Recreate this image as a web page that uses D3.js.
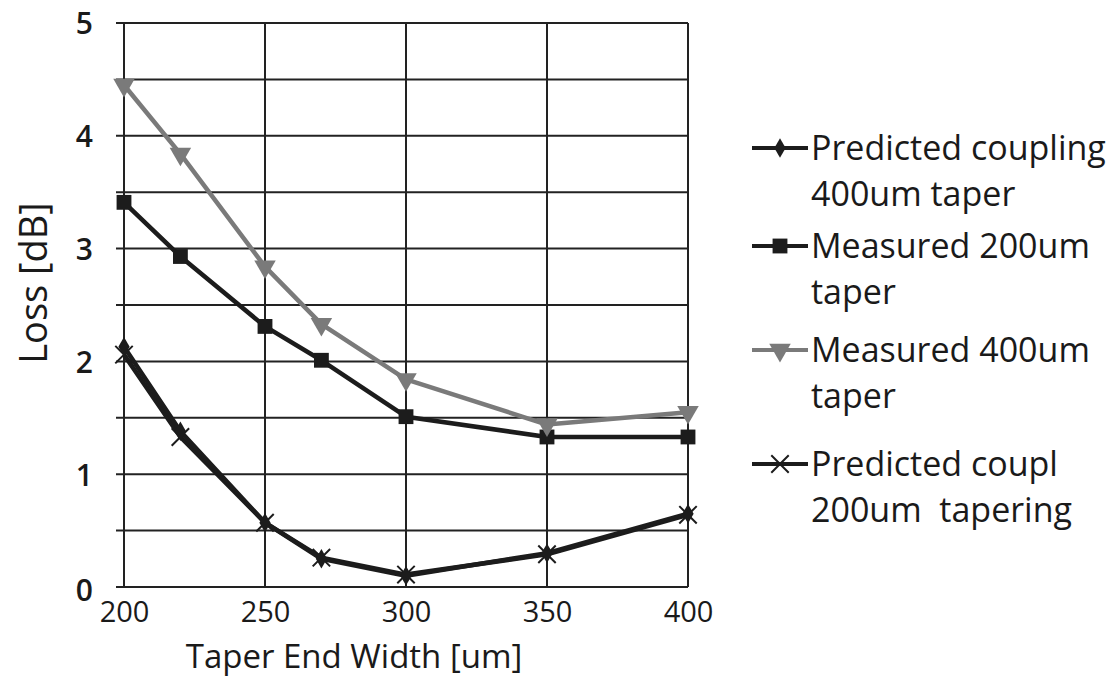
<!DOCTYPE html>
<html>
<head>
<meta charset="utf-8">
<script src="https://cdn.jsdelivr.net/npm/d3@7"></script>
<style>
  html, body { margin: 0; padding: 0; background: #fff; }
  svg { display: block; }
  text { font-family: "Open Sans", "Noto Sans", sans-serif; fill: #1a1a1a; }
</style>
</head>
<body>
<svg id="chart" width="1117" height="677"></svg>
<script>
// Taper end width [um]
const widths = [200, 220, 250, 270, 300, 350, 400];

// Loss [dB] per series
const predicted400 = [2.13, 1.38, 0.57, 0.25, 0.10, 0.30, 0.65];
const measured200  = [3.41, 2.93, 2.31, 2.01, 1.51, 1.33, 1.33];
const measured400  = [4.45, 3.84, 2.84, 2.33, 1.84, 1.44, 1.55];
const predicted200 = [2.06, 1.33, 0.57, 0.26, 0.11, 0.29, 0.64];

const xTicks = [200, 250, 300, 350, 400];
const yTicks = [0, 1, 2, 3, 4, 5];
const yGrid  = [0, 0.5, 1, 1.5, 2, 2.5, 3, 3.5, 4, 4.5, 5];

const seriesNames = [
  ["Predicted coupling", "400um taper"],
  ["Measured 200um", "taper"],
  ["Measured 400um", "taper"],
  ["Predicted coupl", "200um\u00a0 tapering"]
];

const series = [
  { values: predicted400, name: seriesNames[0], color: "#1c1c1c", marker: "diamond" },
  { values: measured200,  name: seriesNames[1], color: "#1c1c1c", marker: "square" },
  { values: measured400,  name: seriesNames[2], color: "#7a7a7a", marker: "triangleDown" },
  { values: predicted200, name: seriesNames[3], color: "#1c1c1c", marker: "cross" }
];

const svg = d3.select("#chart");
const plot = { left: 124, right: 688, top: 23, bottom: 587 };

const x = d3.scaleLinear().domain([200, 400]).range([plot.left, plot.right]);
const y = d3.scaleLinear().domain([0, 5]).range([plot.bottom, plot.top]);

// grid
const grid = svg.append("g").attr("stroke", "#222").attr("stroke-width", 2);
grid.selectAll("line.h").data(yGrid).join("line")
  .attr("x1", plot.left - 8).attr("x2", plot.right)
  .attr("y1", d => y(d)).attr("y2", d => y(d));
grid.selectAll("line.v").data(xTicks).join("line")
  .attr("x1", d => x(d)).attr("x2", d => x(d))
  .attr("y1", plot.top).attr("y2", plot.bottom);

// axes labels
const xAxis = d3.axisBottom(x).tickValues(xTicks).tickSize(0).tickPadding(0)
  .tickFormat(d3.format("d"));
const gx = svg.append("g").attr("transform", `translate(0,${plot.bottom})`).call(xAxis);
gx.select(".domain").remove();
gx.selectAll("text").attr("dy", null).attr("y", 35)
  .style("font-size", "29px").attr("fill", "#1a1a1a");

const yAxis = d3.axisLeft(y).tickValues(yTicks).tickSize(0).tickPadding(0)
  .tickFormat(d3.format("d"));
const gy = svg.append("g").attr("transform", `translate(${plot.left - 31},0)`).call(yAxis);
gy.select(".domain").remove();
gy.selectAll("text").attr("x", 0).attr("dy", "0.36em")
  .style("font-size", "30px").style("font-weight", "600").attr("fill", "#1a1a1a");
gy.selectAll(".tick").filter(d => d === 0).select("text").attr("dy", "0.45em");

svg.append("text").attr("x", 354).attr("y", 668).attr("text-anchor", "middle")
  .style("font-size", "33px").text("Taper End Width [um]");
svg.append("text").attr("transform", "translate(47,283) rotate(-90)")
  .attr("text-anchor", "middle").style("font-size", "38px").text("Loss [dB]");

// markers
function drawMarker(g, type, color, cx, cy) {
  if (type === "diamond") {
    g.append("path").attr("d", d3.symbol(d3.symbolDiamond, 110)())
      .attr("transform", `translate(${cx},${cy})`).attr("fill", color);
  } else if (type === "square") {
    g.append("path").attr("d", d3.symbol(d3.symbolSquare, 220)())
      .attr("transform", `translate(${cx},${cy})`).attr("fill", color);
  } else if (type === "triangleDown") {
    g.append("path").attr("d", d3.symbol(d3.symbolTriangle, 200)())
      .attr("transform", `translate(${cx},${cy}) rotate(180)`).attr("fill", color);
  } else if (type === "cross") {
    g.append("path").attr("d", d3.symbol(d3.symbolX, 200)())
      .attr("transform", `translate(${cx},${cy})`).attr("fill", "none")
      .attr("stroke", color).attr("stroke-width", 2);
  }
}

const line = d3.line().x((d, i) => x(widths[i])).y(d => y(d));
const drawOrder = [3, 0, 1, 2];
drawOrder.forEach(si => {
  const s = series[si];
  const g = svg.append("g");
  g.append("path").datum(s.values).attr("d", line)
    .attr("fill", "none").attr("stroke", s.color).attr("stroke-width", 4.5)
    .attr("stroke-linejoin", "round");
  s.values.forEach((v, i) => drawMarker(g, s.marker, s.color, x(widths[i]), y(v)));
});

// legend
const legendRows = [148, 246, 350, 464];
const legend = svg.append("g");
series.forEach((s, i) => {
  const cy = legendRows[i];
  const g = legend.append("g");
  g.append("line").attr("x1", 752).attr("x2", 808).attr("y1", cy).attr("y2", cy)
    .attr("stroke", s.color).attr("stroke-width", 4);
  drawMarker(g, s.marker, s.color, 780, cy);
  g.append("text").attr("x", 811).attr("y", cy + 12).style("font-size", "34px").text(s.name[0]);
  g.append("text").attr("x", 811).attr("y", cy + 12 + 46).style("font-size", "34px").text(s.name[1]);
});
</script>
</body>
</html>
